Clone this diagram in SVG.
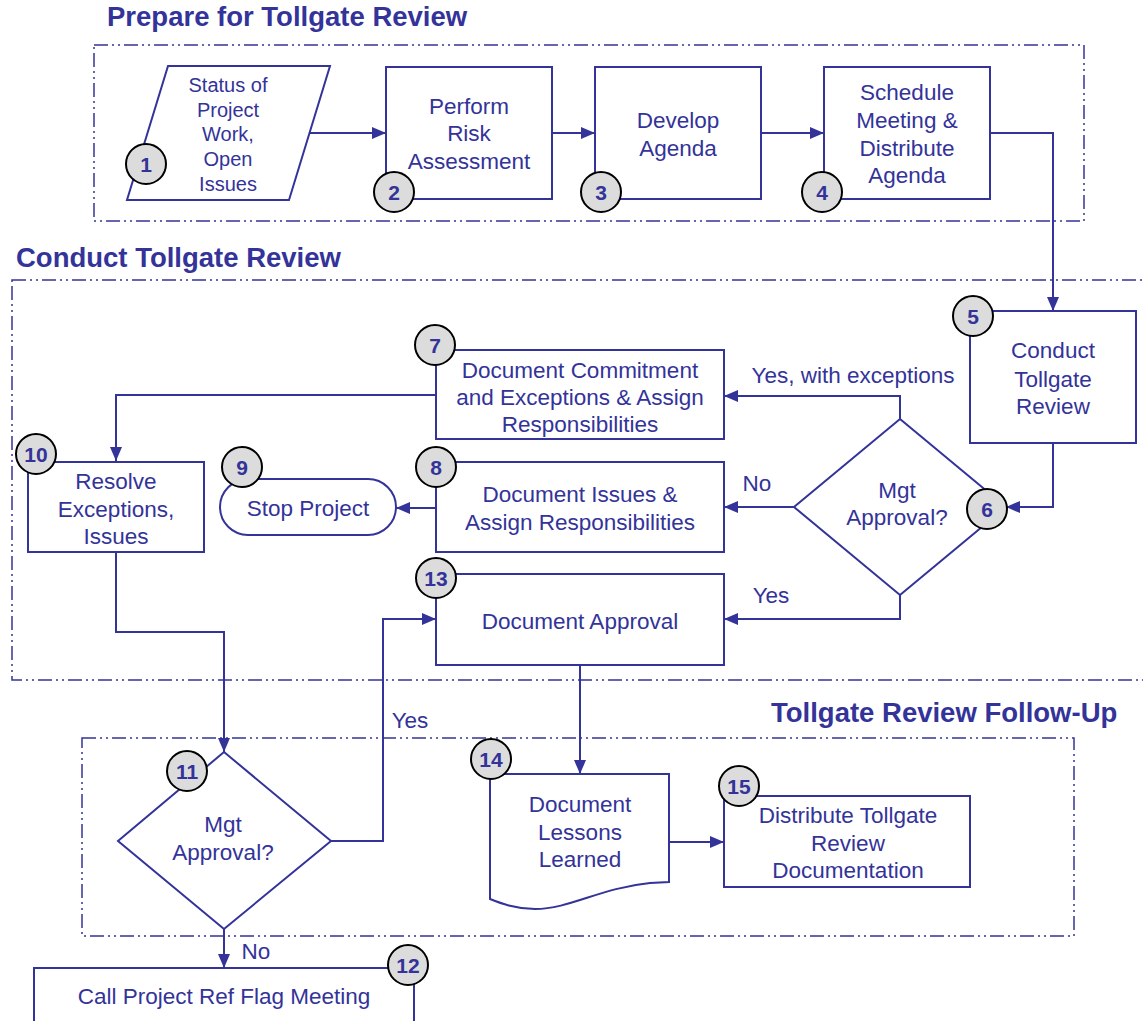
<svg xmlns="http://www.w3.org/2000/svg" width="1143" height="1021" viewBox="0 0 1143 1021">
<style>
.bg{fill:#ffffff}
.region{fill:none;stroke:#333399;stroke-width:1.5;stroke-dasharray:14 4 2 4 2 4}
.title{font-family:"Liberation Sans",Arial,sans-serif;font-weight:bold;font-size:27.5px;fill:#333399}
.shape{fill:#ffffff;stroke:#333399;stroke-width:2}
.txt{font-family:"Liberation Sans",Arial,sans-serif;font-size:22.5px;fill:#333399;text-anchor:middle}
.txt20{font-family:"Liberation Sans",Arial,sans-serif;font-size:20px;fill:#333399;text-anchor:middle}
.badge{fill:#dcdcdc;stroke:#000000;stroke-width:2}
.num{font-family:"Liberation Sans",Arial,sans-serif;font-weight:bold;font-size:21px;fill:#333399;text-anchor:middle}
.conn{fill:none;stroke:#333399;stroke-width:2}
.lbl{font-family:"Liberation Sans",Arial,sans-serif;font-size:22.5px;fill:#333399;text-anchor:middle}
</style>
<defs>
<marker id="arr" markerUnits="userSpaceOnUse" markerWidth="14" markerHeight="12" refX="14" refY="6" orient="auto">
<path d="M0,0 L14,6 L0,12 z" fill="#333399"/>
</marker>
</defs>
<rect class="bg" x="0" y="0" width="1143" height="1021"/>

<g id="regions">
<rect class="region" x="94" y="45" width="990" height="176"/>
<text class="title" x="107" y="26">Prepare for Tollgate Review</text>
<rect class="region" x="12" y="280" width="1140" height="400"/>
<text class="title" x="16" y="267">Conduct Tollgate Review</text>
<rect class="region" x="82" y="738" width="992" height="198"/>
<text class="title" x="771" y="722">Tollgate Review Follow-Up</text>
</g>

<g id="connectors">
<path class="conn" d="M309,133 H386" marker-end="url(#arr)"/>
<path class="conn" d="M552,133 H595" marker-end="url(#arr)"/>
<path class="conn" d="M761,133 H824" marker-end="url(#arr)"/>
<path class="conn" d="M990,133 H1053 V311" marker-end="url(#arr)"/>
<path class="conn" d="M1053,443 V507 H1006" marker-end="url(#arr)"/>
<path class="conn" d="M900,419 V396 H724" marker-end="url(#arr)"/>
<path class="conn" d="M794,507 H724" marker-end="url(#arr)"/>
<path class="conn" d="M900,595 V619 H724" marker-end="url(#arr)"/>
<path class="conn" d="M436,395 H116 V461" marker-end="url(#arr)"/>
<path class="conn" d="M436,508 H396" marker-end="url(#arr)"/>
<path class="conn" d="M116,552 V632 H224 V752" marker-end="url(#arr)"/>
<path class="conn" d="M331,841 H383 V619 H436" marker-end="url(#arr)"/>
<path class="conn" d="M224,929 V968" marker-end="url(#arr)"/>
<path class="conn" d="M580,665 V774" marker-end="url(#arr)"/>
<path class="conn" d="M669,842 H724" marker-end="url(#arr)"/>
<text class="lbl" x="853" y="383">Yes, with exceptions</text>
<text class="lbl" x="757" y="491">No</text>
<text class="lbl" x="771" y="603">Yes</text>
<text class="lbl" x="410" y="728">Yes</text>
<text class="lbl" x="256" y="959">No</text>
</g>

<g id="node1">
<polygon class="shape" points="168,66 330,66 289,200 127,200"/>
<text class="txt20"><tspan x="228" y="92">Status of</tspan><tspan x="228" y="117">Project</tspan><tspan x="228" y="141">Work,</tspan><tspan x="228" y="166">Open</tspan><tspan x="228" y="191">Issues</tspan></text>
<circle class="badge" cx="146" cy="164" r="20"/><text class="num" x="146" y="171.5">1</text>
</g>

<g id="node2">
<rect class="shape" x="386" y="67" width="166" height="132"/>
<text class="txt"><tspan x="469" y="114">Perform</tspan><tspan x="469" y="141">Risk</tspan><tspan x="469" y="169">Assessment</tspan></text>
<circle class="badge" cx="394" cy="192" r="20"/><text class="num" x="394" y="199.5">2</text>
</g>

<g id="node3">
<rect class="shape" x="595" y="67" width="166" height="132"/>
<text class="txt"><tspan x="678" y="128">Develop</tspan><tspan x="678" y="156">Agenda</tspan></text>
<circle class="badge" cx="601" cy="192" r="20"/><text class="num" x="601" y="199.5">3</text>
</g>

<g id="node4">
<rect class="shape" x="824" y="67" width="166" height="132"/>
<text class="txt"><tspan x="907" y="100">Schedule</tspan><tspan x="907" y="128">Meeting &amp;</tspan><tspan x="907" y="156">Distribute</tspan><tspan x="907" y="183">Agenda</tspan></text>
<circle class="badge" cx="822" cy="192" r="20"/><text class="num" x="822" y="199.5">4</text>
</g>

<g id="node5">
<rect class="shape" x="970" y="311" width="166" height="132"/>
<text class="txt"><tspan x="1053" y="358">Conduct</tspan><tspan x="1053" y="387">Tollgate</tspan><tspan x="1053" y="414">Review</tspan></text>
<circle class="badge" cx="973" cy="316" r="20"/><text class="num" x="973" y="323.5">5</text>
</g>

<g id="node6">
<polygon class="shape" points="900,419 1006,507 900,595 794,507"/>
<text class="txt"><tspan x="897" y="498">Mgt</tspan><tspan x="897" y="525">Approval?</tspan></text>
<circle class="badge" cx="987" cy="509" r="20"/><text class="num" x="987" y="516.5">6</text>
</g>

<g id="node7">
<rect class="shape" x="436" y="350" width="288" height="89"/>
<text class="txt"><tspan x="580" y="378">Document Commitment</tspan><tspan x="580" y="405">and Exceptions &amp; Assign</tspan><tspan x="580" y="432">Responsibilities</tspan></text>
<circle class="badge" cx="435" cy="345" r="20"/><text class="num" x="435" y="352.5">7</text>
</g>

<g id="node8">
<rect class="shape" x="436" y="462" width="288" height="90"/>
<text class="txt"><tspan x="580" y="502">Document Issues &amp;</tspan><tspan x="580" y="530">Assign Responsibilities</tspan></text>
<circle class="badge" cx="436" cy="467" r="20"/><text class="num" x="436" y="474.5">8</text>
</g>

<g id="node9">
<rect class="shape" x="220" y="479" width="176" height="56" rx="28" ry="28"/>
<text class="txt" x="308" y="516">Stop Project</text>
<circle class="badge" cx="242" cy="467" r="20"/><text class="num" x="242" y="474.5">9</text>
</g>

<g id="node10">
<rect class="shape" x="28" y="462" width="176" height="90"/>
<text class="txt"><tspan x="116" y="489">Resolve</tspan><tspan x="116" y="517">Exceptions,</tspan><tspan x="116" y="544">Issues</tspan></text>
<circle class="badge" cx="36" cy="454" r="20"/><text class="num" x="36" y="461.5">10</text>
</g>

<g id="node11">
<polygon class="shape" points="224,752 331,841 224,929 118,841"/>
<text class="txt"><tspan x="223" y="832">Mgt</tspan><tspan x="223" y="860">Approval?</tspan></text>
<circle class="badge" cx="187" cy="771" r="20"/><text class="num" x="187" y="778.5">11</text>
</g>

<g id="node12">
<rect class="shape" x="34" y="968" width="380" height="70"/>
<text class="txt" x="224" y="1004">Call Project Ref Flag Meeting</text>
<circle class="badge" cx="408" cy="965" r="20"/><text class="num" x="408" y="972.5">12</text>
</g>

<g id="node13">
<rect class="shape" x="436" y="574" width="288" height="91"/>
<text class="txt" x="580" y="629">Document Approval</text>
<circle class="badge" cx="436" cy="578" r="20"/><text class="num" x="436" y="585.5">13</text>
</g>

<g id="node14">
<path class="shape" d="M490,774 H669 V882 L650,883 C600,888 570,909 535,909 C515,909 500,903 490,899 Z"/>
<text class="txt"><tspan x="580" y="812">Document</tspan><tspan x="580" y="840">Lessons</tspan><tspan x="580" y="867">Learned</tspan></text>
<circle class="badge" cx="491" cy="759" r="20"/><text class="num" x="491" y="766.5">14</text>
</g>

<g id="node15">
<rect class="shape" x="724" y="796" width="246" height="91"/>
<text class="txt"><tspan x="848" y="823">Distribute Tollgate</tspan><tspan x="848" y="851">Review</tspan><tspan x="848" y="878">Documentation</tspan></text>
<circle class="badge" cx="739" cy="786" r="20"/><text class="num" x="739" y="793.5">15</text>
</g>
</svg>
